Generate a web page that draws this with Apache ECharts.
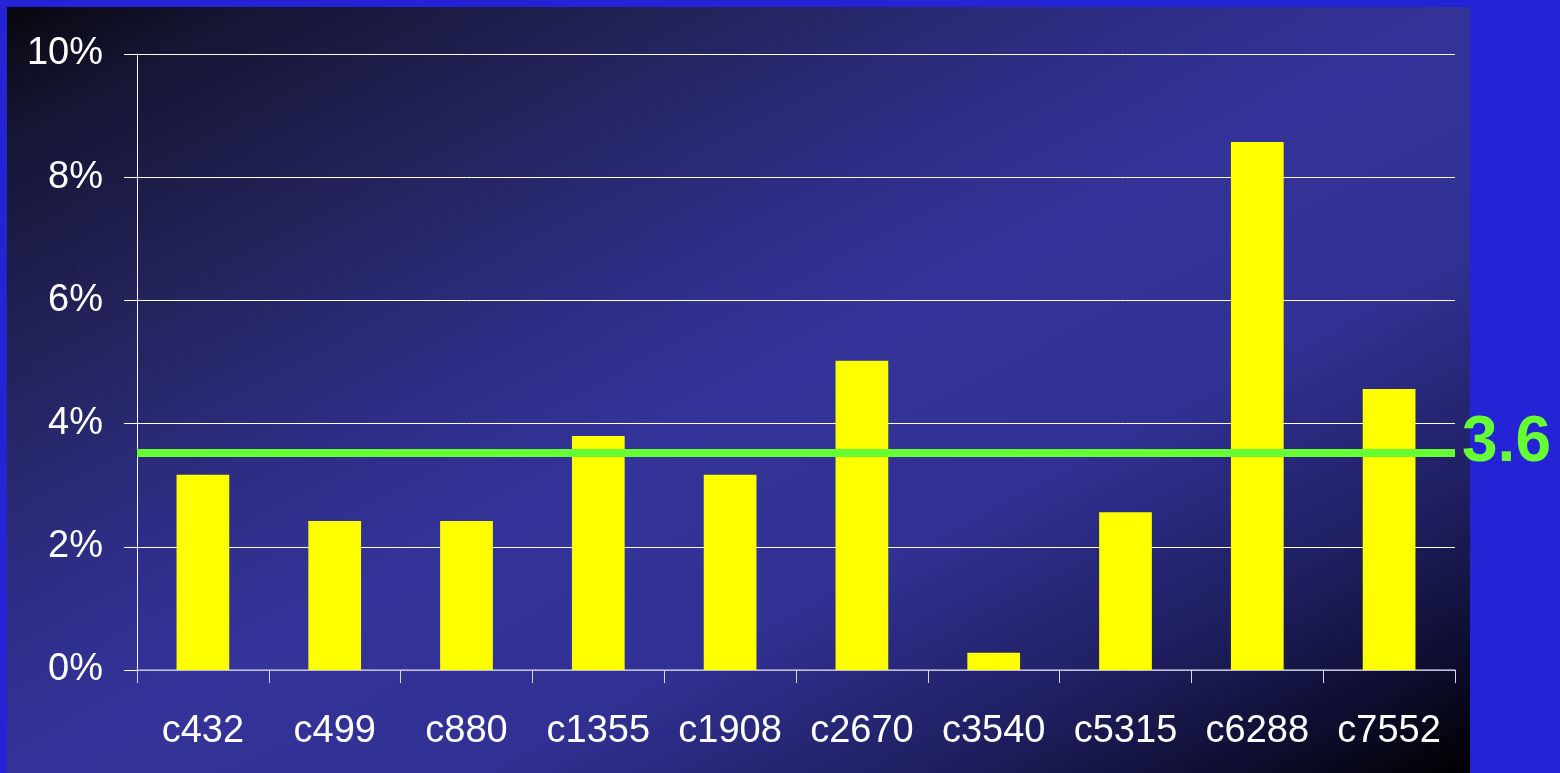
<!DOCTYPE html>
<html>
<head>
<meta charset="utf-8">
<script src="https://cdn.jsdelivr.net/npm/echarts@6/dist/echarts.min.js"></script>
<style>
  html, body { margin: 0; padding: 0; width: 1560px; height: 773px; overflow: hidden; background: #2424d6; }
  #panel { position: absolute; left: 7px; top: 7px; width: 1463px; height: 766px;
    background: linear-gradient(to bottom right, #07070e 0%, #151533 8%, #24245e 25%, #2e2e88 40%, #333399 50%, #313194 66%, #1e1e5e 82%, #0d0d2e 92%, #000000 100%); }
  #chart { position: absolute; left: 0; top: 0; width: 1560px; height: 773px; }
</style>
</head>
<body>
<div id="panel"></div>
<div id="chart"></div>
<script>
const categories = ['c432', 'c499', 'c880', 'c1355', 'c1908', 'c2670', 'c3540', 'c5315', 'c6288', 'c7552'];
const values = [3.17, 2.42, 2.42, 3.80, 3.17, 5.02, 0.28, 2.56, 8.57, 4.56];
const averageValue = 3.52;
const averageLabel = '3.6';
const yTicks = { min: 0, max: 10, interval: 2 };

const chart = echarts.init(document.getElementById('chart'), null, { renderer: 'canvas' });
const font = '"Liberation Sans", Arial, sans-serif';
chart.setOption({
  backgroundColor: 'transparent',
  animation: false,
  grid: { left: 137, right: 105, top: 54, bottom: 103, containLabel: false },
  xAxis: {
    type: 'category',
    data: categories,
    axisLine: { show: true, lineStyle: { color: '#a8a8cc', width: 1.5 } },
    axisTick: { show: true, alignWithLabel: false, length: 13, lineStyle: { color: '#d8d8e8', width: 1 } },
    axisLabel: { color: '#ffffff', fontSize: 38, fontFamily: font, margin: 43, interval: 0 },
    splitLine: { show: false }
  },
  yAxis: {
    type: 'value',
    min: yTicks.min, max: yTicks.max, interval: yTicks.interval,
    axisLine: { show: true, lineStyle: { color: '#ffffff', width: 1 } },
    axisTick: { show: true, length: 13, lineStyle: { color: '#ffffff', width: 1 } },
    axisLabel: { color: '#ffffff', fontSize: 38, fontFamily: font, margin: 34, formatter: '{value}%' },
    splitLine: { show: true, lineStyle: { color: '#ffffff', width: 1 } }
  },
  series: [{
    type: 'bar',
    data: values,
    barWidth: '40%',
    itemStyle: { color: '#ffff00' },
    z: 2,
    markLine: {
      silent: true,
      symbol: ['none', 'none'],
      lineStyle: { color: '#66ff33', width: 8, type: 'solid' },
      label: {
        show: true, position: 'end',
        formatter: '{v|' + averageLabel + '}\n{s| }',
        distance: 7,
        rich: {
          v: { color: '#66ff33', fontSize: 64, fontWeight: 'bold', fontFamily: font, lineHeight: 64 },
          s: { fontSize: 10, lineHeight: 20 }
        }
      },
      data: [{ yAxis: averageValue }],
      z: 5
    }
  }]
});
</script>
</body>
</html>
